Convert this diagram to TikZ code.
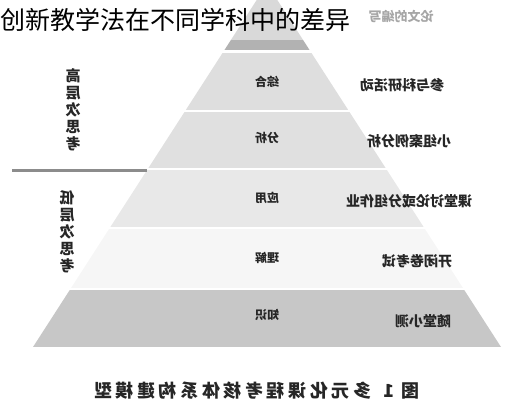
\documentclass[tikz,border=0pt]{standalone}
\usepackage{fontspec}
\newfontfamily\cjk{Noto Sans CJK SC}
\newfontfamily\cjkcap[LetterSpace=20]{Noto Sans CJK SC}
\newcommand{\mirtext}[1]{\reflectbox{#1}}

\begin{document}
\begin{tikzpicture}[x=1pt,y=-1pt,
    lvl/.style={font=\cjk\bfseries\fontsize{12}{12}\selectfont,text=black!85},
    task/.style={font=\cjk\bfseries\fontsize{14}{14}\selectfont,text=black!85},
    side/.style={font=\cjk\bfseries\fontsize{15}{18}\selectfont,text=black!85,align=center}]
    \useasboundingbox (0,0) rectangle (513,400);
    % pyramid bands
    \begin{scope}
        \clip (267,-16) -- (33,347) -- (501,347) -- cycle;
        \fill[black!15] (0,-20) rectangle (513,40);
        \fill[black!30] (0,40) rectangle (513,50);
        \foreach \top/\bot/\shade in {53/110/13,112/168/12,170/227/9,229/288/3.5,290/347/22}
            \fill[black!\shade] (0,\top) rectangle (513,\bot);
    \end{scope}
    % levels inside the pyramid
    \node[lvl] (zonghe) at (267,82) {\mirtext{综合}};
    \node[lvl] (fenxi) at (267,138) {\mirtext{分析}};
    \node[lvl] (yingyong) at (267,198) {\mirtext{应用}};
    \node[lvl] (lijie) at (267,258) {\mirtext{理解}};
    \node[lvl] (zhishi) at (267,315) {\mirtext{知识}};
    % assessment forms
    \node[task,text=black!35,font=\cjk\bfseries\fontsize{13}{13}\selectfont] (lunwen) at (401,16) {\mirtext{论文的编写}};
    \node[task] (keyan) at (402,85) {\mirtext{参与科研活动}};
    \node[task] (anli) at (409,141) {\mirtext{小组案例分析}};
    \node[task] (taolun) at (409,201) {\mirtext{课堂讨论或分组作业}};
    \node[task] (kaoshi) at (417,261) {\mirtext{开闭卷考试}};
    \node[task] (xiaoce) at (423,321) {\mirtext{随堂小测}};
    % thinking levels
    \node[side] (high) at (73,110) {\mirtext{\shortstack{高\\层\\次\\思\\考}}};
    \node[side] (low) at (67,232) {\mirtext{\shortstack{低\\层\\次\\思\\考}}};
    \coordinate (splitL) at (12,170);
    \coordinate (splitR) at (147,170);
    \draw[line width=3pt,black!45] (splitL) -- (splitR);
    % caption and title
    \node[font=\cjkcap\bfseries\fontsize{18}{18}\selectfont,text=black!85] (caption) at (257,391) {\mirtext{图 1\hspace{12pt}多元化课程考核体系构建模型}};
    \node[anchor=west,font=\cjk\fontsize{25}{25}\selectfont] (title) at (-3,20) {创新教学法在不同学科中的差异};
\end{tikzpicture}
\end{document}
